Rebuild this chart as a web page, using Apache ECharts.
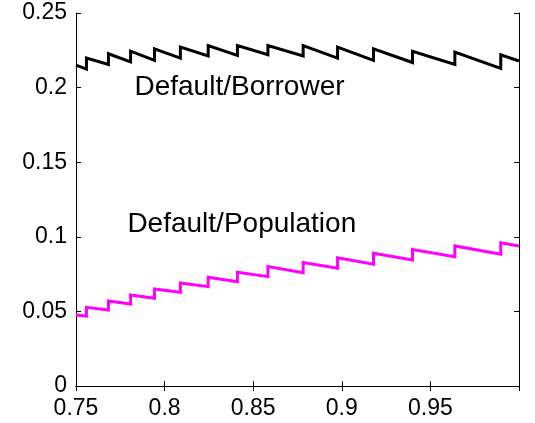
<!DOCTYPE html>
<html>
<head>
<meta charset="utf-8">
<script src="https://cdn.jsdelivr.net/npm/echarts@6/dist/echarts.min.js"></script>
<style>
  html, body { margin: 0; padding: 0; background: #ffffff; }
  #chart { width: 535px; height: 423px; }
</style>
</head>
<body>
<div id="chart"></div>
<script>
// Sawtooth default rates: each series declines slowly, then steps up at a jump point.
const jumpX = [0.7559, 0.7683, 0.7808, 0.7943, 0.8089, 0.8246, 0.8411,
               0.8583, 0.8782, 0.8976, 0.9179, 0.9399, 0.9638, 0.9897];

// Default/Borrower (black)
const borrowerStart = 0.2151;
const borrowerBefore = [0.2124, 0.2155, 0.2172, 0.2183, 0.2198, 0.2212, 0.2216,
                        0.2220, 0.2212, 0.2198, 0.2183, 0.2168, 0.2155, 0.2129];
const borrowerAfter  = [0.2198, 0.2227, 0.2244, 0.2260, 0.2271, 0.2282, 0.2282,
                        0.2282, 0.2282, 0.2271, 0.2260, 0.2244, 0.2238, 0.2220];
const borrowerEnd = 0.2178;

// Default/Population (magenta)
const populationStart = 0.0476;
const populationBefore = [0.0469, 0.0509, 0.0550, 0.0588, 0.0628, 0.0666, 0.0699,
                          0.0733, 0.0760, 0.0789, 0.0817, 0.0845, 0.0867, 0.0883];
const populationAfter  = [0.0527, 0.0570, 0.0610, 0.0650, 0.0690, 0.0729, 0.0762,
                          0.0800, 0.0827, 0.0860, 0.0889, 0.0914, 0.0939, 0.0960];
const populationEnd = 0.0938;

const xMin = 0.75, xMax = 1.0, xStep = 0.05;
const yMin = 0, yMax = 0.25, yStep = 0.05;

// Curve labels, anchored in data coordinates (left edge, vertical middle)
const curveLabels = [
  { text: 'Default/Borrower',   x: 0.783, y: 0.2001 },
  { text: 'Default/Population', x: 0.779, y: 0.1086 }
];

function buildPath(start, before, after, end) {
  const pts = [[xMin, start]];
  for (let i = 0; i < jumpX.length; i++) {
    pts.push([jumpX[i], before[i]]);
    pts.push([jumpX[i], after[i]]);
  }
  pts.push([xMax, end]);
  return pts;
}

const FONT = '"Liberation Sans", Arial, Helvetica, sans-serif';
const frame = { show: true, lineStyle: { color: '#000', width: 1 } };
const tickIn = { show: true, inside: true, length: 5, lineStyle: { color: '#000', width: 1 } };

const chart = echarts.init(document.getElementById('chart'), null, { renderer: 'canvas' });

chart.setOption({
  backgroundColor: '#ffffff',
  animation: false,
  grid: { left: 76, right: 16, top: 13, bottom: 37, containLabel: false },
  xAxis: [
    {
      type: 'value', position: 'bottom', min: xMin, max: xMax, interval: xStep,
      axisLine: frame, axisTick: tickIn, splitLine: { show: false },
      axisLabel: { show: true, showMaxLabel: false, color: '#000', fontSize: 23,
                   fontFamily: FONT, margin: 11 }
    },
    {
      type: 'value', position: 'top', min: xMin, max: xMax, interval: xStep,
      axisLine: frame, axisTick: tickIn, splitLine: { show: false },
      axisLabel: { show: false }
    }
  ],
  yAxis: [
    {
      type: 'value', position: 'left', min: yMin, max: yMax, interval: yStep,
      axisLine: frame, axisTick: tickIn, splitLine: { show: false },
      axisLabel: { show: true, color: '#000', fontSize: 23, fontFamily: FONT, margin: 9 }
    },
    {
      type: 'value', position: 'right', min: yMin, max: yMax, interval: yStep,
      axisLine: frame, axisTick: tickIn, splitLine: { show: false },
      axisLabel: { show: false }
    }
  ],
  series: [
    {
      name: 'Default/Borrower', type: 'line', xAxisIndex: 0, yAxisIndex: 0,
      data: buildPath(borrowerStart, borrowerBefore, borrowerAfter, borrowerEnd),
      showSymbol: false, symbol: 'none',
      lineStyle: { color: '#000000', width: 3, join: 'miter', miterLimit: 10 }
    },
    {
      name: 'Default/Population', type: 'line', xAxisIndex: 0, yAxisIndex: 0,
      data: buildPath(populationStart, populationBefore, populationAfter, populationEnd),
      showSymbol: false, symbol: 'none',
      lineStyle: { color: '#ff00ff', width: 3, join: 'miter', miterLimit: 10 }
    }
  ]
});

// Place the curve labels at their data positions
chart.setOption({
  graphic: curveLabels.map(function (lab) {
    const p = chart.convertToPixel({ xAxisIndex: 0, yAxisIndex: 0 }, [lab.x, lab.y]);
    return {
      type: 'text', x: p[0], y: p[1],
      style: { text: lab.text, fill: '#000', fontSize: 28, fontFamily: FONT,
               align: 'left', verticalAlign: 'middle' }
    };
  })
});
</script>
</body>
</html>
